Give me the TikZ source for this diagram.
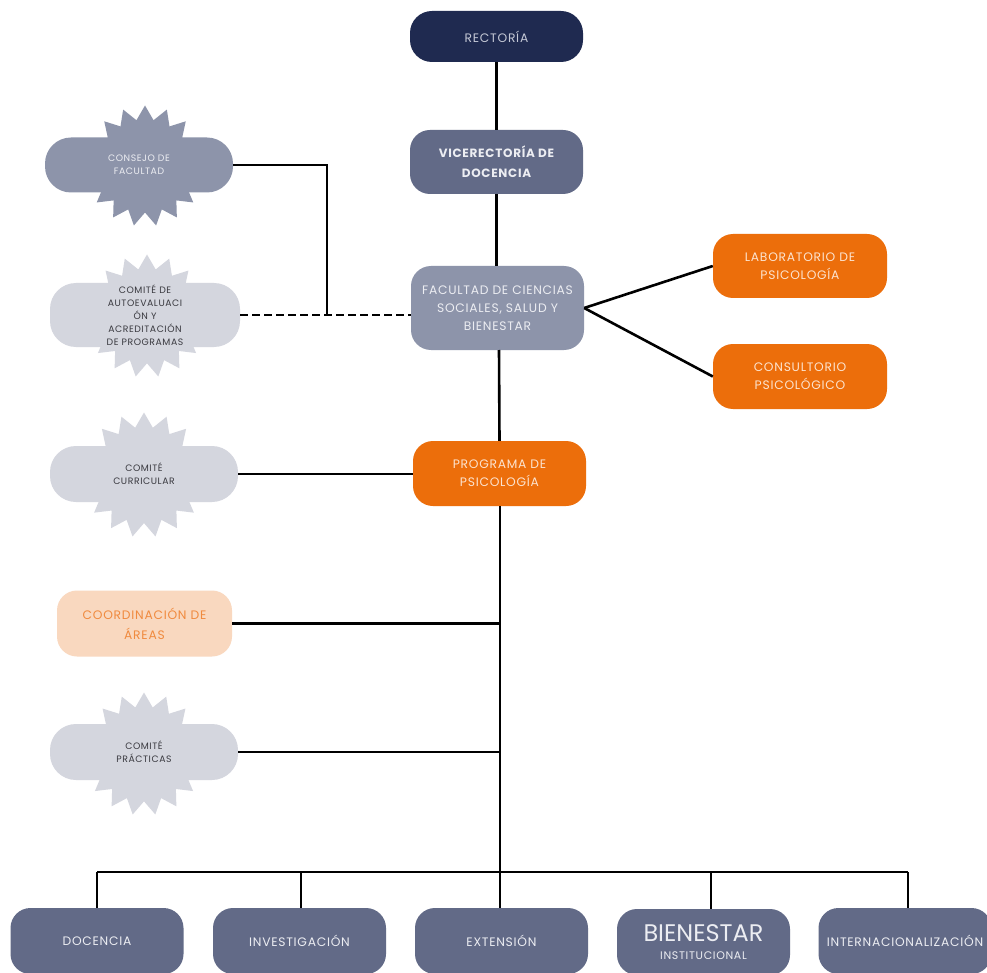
\documentclass[tikz,border=0pt]{standalone}
\usepackage{fontspec}
\setmainfont{Poppins}[LetterSpace=6]
\usetikzlibrary{shapes.geometric}
\definecolor{navy}{HTML}{1F2A50}
\definecolor{slate}{HTML}{626A87}
\definecolor{greyblue}{HTML}{8D94AA}
\definecolor{lightgrey}{HTML}{D4D6DE}
\definecolor{orng}{HTML}{EC6E0B}
\definecolor{peach}{HTML}{F9D8BF}
\definecolor{peachtext}{HTML}{F08A3E}
\definecolor{navytext}{HTML}{C5C9D6}
\definecolor{palet}{HTML}{ECEDF2}
\definecolor{orngtext}{HTML}{FCE3CF}
\definecolor{darktext}{HTML}{3A3A40}
\tikzset{
  box/.style={rectangle, rounded corners=20pt, align=center, inner sep=2pt,
    font=\fontsize{12.3}{18}\selectfont},
  burst/.style={star, star points=17, star point ratio=1.3, inner sep=0pt},
  burstbox/.style={rectangle, rounded corners=26pt, align=center, inner sep=1pt,
    font=\fontsize{9.3}{13}\selectfont},
  botbox/.style={box, fill=slate, text=palet, minimum width=173pt, minimum height=66pt,
    font=\fontsize{12.3}{12}\selectfont},
  conn/.style={line width=2.6pt, black},
}
\begin{document}
\begin{tikzpicture}[x=1pt,y=-1pt]
\useasboundingbox (0,0) rectangle (987,973);
\fill[white] (0,0) rectangle (987,973);

% main column
\node[box, fill=navy, text=navytext, minimum width=173pt, minimum height=51pt, rounded corners=22pt] (rect) at (496.5,36.5) {RECTORÍA};
\node[box, fill=slate, text=palet, minimum width=173pt, minimum height=64pt, font=\fontsize{12}{20}\selectfont\bfseries] (vice) at (496.5,162) {VICERECTORÍA DE\\DOCENCIA};
\node[box, fill=greyblue, text=palet, minimum width=173pt, minimum height=84pt] (fac) at (497.5,308) {FACULTAD DE CIENCIAS\\SOCIALES, SALUD Y\\BIENESTAR};
\node[box, fill=orng, text=orngtext, minimum width=174pt, minimum height=64pt] (lab) at (800,266) {LABORATORIO DE\\PSICOLOGÍA};
\node[box, fill=orng, text=orngtext, minimum width=174pt, minimum height=65pt] (cons) at (800,376.5) {CONSULTORIO\\PSICOLÓGICO};
\node[box, fill=orng, text=orngtext, minimum width=173pt, minimum height=65pt] (prog) at (499.5,473.5) {PROGRAMA DE\\PSICOLOGÍA};
\node[box, fill=peach, text=peachtext, minimum width=175pt, minimum height=66pt, font=\fontsize{12.3}{20}\selectfont] (coord) at (144.5,623.5) {COORDINACIÓN DE\\ÁREAS};

% starbursts
\node[burst, fill=greyblue, minimum size=121pt] (consejoS) at (145,166) {};
\node[burstbox, fill=greyblue, text=palet, minimum width=188pt, minimum height=55pt] (consejo) at (139,165) {CONSEJO DE\\FACULTAD};
\node[burst, fill=lightgrey, minimum size=123pt] (autoS) at (147,316) {};
\node[burstbox, fill=lightgrey, text=darktext, minimum width=190pt, minimum height=64pt] (auto) at (145,315) {COMITÉ DE\\AUTOEVALUACI\\ÓN Y\\ACREDITACIÓN\\DE PROGRAMAS};
\node[burst, fill=lightgrey, minimum size=125pt] (currS) at (144,475) {};
\node[burstbox, fill=lightgrey, text=darktext, minimum width=188pt, minimum height=56pt] (curr) at (144,474) {COMITÉ\\CURRICULAR};
\node[burst, fill=lightgrey, minimum size=123pt] (pracS) at (144,754) {};
\node[burstbox, fill=lightgrey, text=darktext, minimum width=188pt, minimum height=56pt] (prac) at (144,752) {COMITÉ\\PRÁCTICAS};

% bottom row
\node[botbox] (doc) at (97,941) {DOCENCIA};
\node[botbox] (inv) at (299.5,941) {INVESTIGACIÓN};
\node[botbox] (ext) at (501.5,941) {EXTENSIÓN};
\node[botbox, font=\fontsize{11}{12}\selectfont] (bien) at (703.5,942) {{\fontsize{24}{24}\selectfont\addfontfeatures{LetterSpace=0}BIENESTAR}\\[6pt]INSTITUCIONAL};
\node[botbox] (int) at (905,941) {INTERNACIONALIZACIÓN};

% junction coordinates
\coordinate (jc) at (327,315);
\coordinate (bus) at (500,872);
\coordinate (d1) at (97,872);
\coordinate (d2) at (301,872);
\coordinate (d4) at (711,872);
\coordinate (d5) at (908,872);

% connectors
\draw[conn] (rect.south) -- (vice.north);
\draw[conn] (vice.south) -- (vice.south |- fac.north);
\draw[conn] (consejo.east) -| (jc);
\draw[conn, dash pattern=on 8pt off 4pt] (auto.east) -- (auto.east -| fac.west);
\draw[conn] (fac.east) -- (lab.west);
\draw[conn] (fac.east) -- (cons.west);
\draw[conn] (499,350) -- (prog.north);
\draw[conn] (curr.east) -- (curr.east -| prog.west);
\draw[conn] (bus |- prog.south) -- (bus);
\draw[conn] (coord.east) -- (coord.east -| bus);
\draw[conn] (prac.east) -- (prac.east -| bus);
\draw[conn] (d1) -- (d5);
\draw[conn] (d1) -- (d1 |- doc.north);
\draw[conn] (d2) -- (d2 |- inv.north);
\draw[conn] (bus) -- (bus |- ext.north);
\draw[conn] (d4) -- (d4 |- bien.north);
\draw[conn] (d5) -- (d5 |- int.north);
\end{tikzpicture}
\end{document}
